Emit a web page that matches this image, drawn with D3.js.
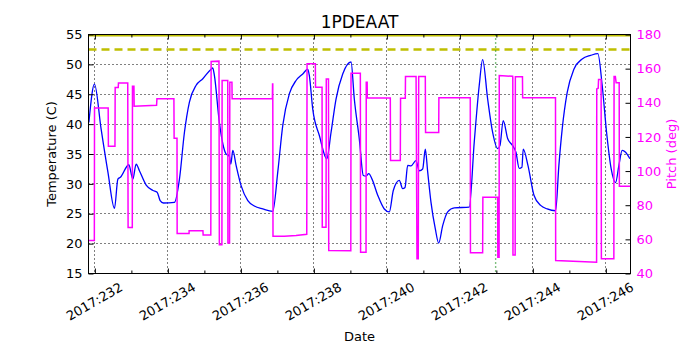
<!DOCTYPE html>
<html>
<head>
<meta charset="utf-8">
<script src="https://cdn.jsdelivr.net/npm/d3@7"></script>
<style>
  body { margin: 0; background: #fff; }
  svg { font-family: "DejaVu Sans", sans-serif; }
</style>
</head>
<body>
<svg id="chart" width="700" height="350"></svg>
<script>
// day of year 2017 (decimal) and 1PDEAAT temperature
const tempDays = [231.836, 231.989, 232.17, 232.356, 232.537, 232.63, 232.70, 232.93, 233.04, 233.13, 233.22,
  233.405, 233.59, 233.706, 233.788, 233.878, 234.18, 234.317, 234.453, 234.59, 234.774, 234.957, 235.185,
  235.23, 235.275, 235.41, 235.595, 235.686, 235.724, 235.779, 235.869, 236.006, 236.19, 236.37, 236.6,
  236.874, 237.011, 237.148, 237.329, 237.512, 237.696, 237.832, 237.876, 237.969, 238.15, 238.353, 238.47,
  238.607, 238.79, 239.018, 239.108, 239.245, 239.355, 239.429, 239.503, 239.593, 239.749, 239.93, 240.067,
  240.176, 240.34, 240.433, 240.497, 240.57, 240.661, 240.798, 240.888, 240.981, 241.053, 241.118, 241.209,
  241.326, 241.42, 241.529, 241.666, 241.847, 242.257, 242.394, 242.531, 242.624, 242.761, 242.898, 243.035,
  243.098, 243.188, 243.309, 243.446, 243.536, 243.626, 243.70, 243.736, 243.865, 244.03, 244.213, 244.393,
  244.623, 244.713, 244.804, 244.941, 245.124, 245.351, 245.582, 245.781, 245.899, 246.02, 246.146, 246.266,
  246.357, 246.447, 246.54, 246.658];
const tempValues = [40.3, 46.7, 39.2, 32.0, 25.9, 30.8, 31.1, 33.2, 30.8, 33.3, 32.2,
  29.8, 28.9, 28.6, 27.2, 26.8, 26.9, 30.8, 38.6, 43.7, 46.5, 47.6, 49.2,
  49.4, 48.1, 40.3, 35.0, 34.6, 33.3, 35.6, 33.1, 29.7, 27.2, 26.3, 25.8,
  25.4, 32.0, 39.8, 45.1, 47.3, 48.4, 49.2, 48.1, 42.5, 38.1, 34.2, 38.6,
  44.2, 48.4, 50.4, 44.2, 37.5, 31.4, 31.3, 31.7, 30.8, 28.1, 25.8, 25.3,
  28.9, 30.6, 29.2, 29.4, 33.1, 33.0, 33.9, 32.2, 32.5, 35.8, 32.0, 26.9,
  22.5, 20.1, 23.0, 25.3, 26.0, 26.1, 37.0, 46.5, 50.8, 44.2, 38.6, 35.9,
  36.4, 40.6, 37.6, 36.4, 35.3, 32.6, 32.8, 35.8, 33.1, 28.1, 26.4, 25.8,
  25.5, 33.1, 39.2, 45.3, 49.2, 50.9, 51.5, 51.8, 46.5, 38.6, 32.5, 30.2,
  33.1, 35.6, 35.3, 34.2];

// pitch (deg), step-like
const pitchDays = [231.825, 231.985, 231.99, 232.364, 232.37, 232.55, 232.556, 232.64, 232.646, 232.90, 232.91,
  233.025, 233.03, 233.07, 233.076, 233.69, 233.70, 234.165, 234.171, 234.25, 234.254, 234.58, 234.582,
  234.96, 234.966, 235.176, 235.185, 235.40, 235.41, 235.48, 235.486, 235.64, 235.645, 235.69, 235.697,
  235.755, 235.76, 236.863, 236.868, 236.874, 236.88, 237.192, 237.512, 237.805, 237.813, 238.04, 238.045,
  238.224, 238.23, 238.333, 238.34, 238.40, 238.407, 239.012, 239.018, 239.273, 239.28, 239.429, 239.435,
  239.46, 239.464, 240.094, 240.10, 240.368, 240.375, 240.505, 240.51, 240.80, 240.825, 240.86, 240.872,
  241.053, 241.06, 241.42, 241.425, 242.285, 242.29, 242.624, 242.63, 243.035, 243.04, 243.075, 243.079,
  243.446, 243.45, 243.455, 243.515, 243.52, 243.715, 243.72, 244.62, 244.625, 245.746, 245.75, 245.79,
  245.80, 245.87, 245.877, 246.219, 246.225, 246.26, 246.282, 246.365, 246.37, 246.671];
const pitchValues = [59.3, 59.3, 137.0, 137.0, 114.6, 114.6, 149.0, 149.0, 151.6, 151.6, 66.9,
  66.9, 149.7, 149.7, 138.0, 138.6, 142.3, 142.3, 119.2, 119.2, 63.4, 63.4, 65.0,
  65.0, 62.6, 62.6, 164.2, 164.4, 56.8, 56.8, 153.1, 153.1, 57.9, 57.9, 152.1,
  152.1, 142.4, 142.4, 151.0, 151.0, 61.8, 61.8, 62.3, 63.0, 162.8, 162.8, 149.1,
  149.1, 67.1, 67.1, 154.0, 154.0, 53.5, 53.3, 157.3, 157.3, 52.5, 52.5, 152.1,
  152.1, 142.8, 142.8, 106.2, 106.2, 142.7, 142.7, 155.4, 155.4, 48.6, 48.6, 155.4,
  155.4, 122.6, 122.6, 142.9, 142.9, 52.1, 52.1, 84.7, 84.7, 49.5, 49.5, 156.0,
  155.5, 155.0, 50.9, 50.9, 155.3, 155.3, 142.9, 142.9, 47.6, 46.6, 148.1, 148.5,
  153.6, 153.6, 48.6, 48.6, 155.4, 155.4, 151.7, 151.7, 91.1, 91.1];

const dateTicks = [232, 234, 236, 238, 240, 242, 244, 246];
const dateMinorTicks = [233, 235, 237, 239, 241, 243, 245];
const tempTicks = [15, 20, 25, 30, 35, 40, 45, 50, 55];
const pitchTicks = [40, 60, 80, 100, 120, 140, 160, 180];
const planLimit = 52.5;
const maxTemp = 55;
const markerDay = 242.98;

const margin = {top: 34.5, right: 69.5, bottom: 76.5, left: 88.5};
const width = 700 - margin.left - margin.right;
const height = 350 - margin.top - margin.bottom;

const svg = d3.select("#chart");
const g = svg.append("g")
    .attr("transform", "translate(" + margin.left + "," + margin.top + ")");

const x = d3.scaleLinear().domain([231.825, 246.675]).range([0, width]);
const yT = d3.scaleLinear().domain([15, 55]).range([height, 0]);
const yP = d3.scaleLinear().domain([40, 180]).range([height, 0]);

svg.append("defs").append("clipPath").attr("id", "clip")
    .append("rect").attr("width", width).attr("height", height);

// dotted grid on major ticks
g.append("g").selectAll("line").data(dateTicks).join("line")
    .attr("x1", d => Math.round(x(d))).attr("x2", d => Math.round(x(d)))
    .attr("y1", 0).attr("y2", height)
    .attr("stroke", "#000").attr("stroke-width", 1).attr("stroke-dasharray", "1,3");
g.append("g").selectAll("line").data(tempTicks.slice(1, -1)).join("line")
    .attr("x1", 0).attr("x2", width)
    .attr("y1", d => Math.round(yT(d))).attr("y2", d => Math.round(yT(d)))
    .attr("stroke", "#000").attr("stroke-width", 1).attr("stroke-dasharray", "1,3");

const plot = g.append("g").attr("clip-path", "url(#clip)");

// limit lines
plot.append("line")
    .attr("x1", 0).attr("x2", width).attr("y1", yT(maxTemp) + 1).attr("y2", yT(maxTemp) + 1)
    .attr("stroke", "#bfbf00").attr("stroke-width", 2);
plot.append("line")
    .attr("x1", 0).attr("x2", width).attr("y1", yT(planLimit)).attr("y2", yT(planLimit))
    .attr("stroke", "#bfbf00").attr("stroke-width", 2.5).attr("stroke-dasharray", "8,5");
plot.append("line")
    .attr("x1", x(markerDay)).attr("x2", x(markerDay)).attr("y1", 0).attr("y2", height)
    .attr("stroke", "#008000").attr("stroke-width", 1.4).attr("stroke-dasharray", "1,3");

const tempLine = d3.line()
    .x((d, i) => x(tempDays[i]))
    .y(d => yT(d))
    .curve(d3.curveMonotoneX);
plot.append("path")
    .datum(tempValues)
    .attr("fill", "none").attr("stroke", "#0000ff").attr("stroke-width", 1.3)
    .attr("d", tempLine);

const pitchLine = d3.line()
    .x((d, i) => x(pitchDays[i]))
    .y(d => yP(d));
plot.append("path")
    .datum(pitchValues)
    .attr("fill", "none").attr("stroke", "#ff00ff").attr("stroke-width", 1.5)
    .attr("d", pitchLine);

// axes, ticks point inward
const fmt = d => "2017:" + d;
const xAxis = g.append("g")
    .attr("transform", "translate(0," + height + ")")
    .call(d3.axisBottom(x).tickValues(dateTicks).tickSize(-5).tickFormat(fmt));
xAxis.selectAll("text")
    .attr("y", 0).attr("dy", "0.35em")
    .attr("text-anchor", "middle")
    .attr("transform", "translate(-1,28) rotate(-30)");
g.append("g")
    .attr("transform", "translate(0," + height + ")")
    .call(d3.axisBottom(x).tickValues(dateMinorTicks).tickSize(-3).tickFormat(""));
g.append("g")
    .call(d3.axisTop(x).tickValues(dateTicks).tickSize(-5).tickFormat(""));
g.append("g")
    .call(d3.axisTop(x).tickValues(dateMinorTicks).tickSize(-3).tickFormat(""));

g.append("g")
    .call(d3.axisLeft(yT).tickValues(tempTicks).tickSize(-5).tickPadding(6));

const rAxis = g.append("g")
    .attr("transform", "translate(" + width + ",0)")
    .call(d3.axisRight(yP).tickValues(pitchTicks).tickSize(-5).tickPadding(6));
rAxis.selectAll("text").attr("fill", "#ff00ff");

g.selectAll(".domain").remove();
g.selectAll(".tick text").attr("font-size", 13).attr("font-family", "DejaVu Sans, sans-serif");
g.selectAll(".tick line").attr("stroke", "#000");

g.append("rect")
    .attr("width", width).attr("height", height)
    .attr("fill", "none").attr("stroke", "#000").attr("stroke-width", 1);

// titles
svg.append("text")
    .attr("x", margin.left + width / 2).attr("y", 28)
    .attr("text-anchor", "middle").attr("font-size", 17)
    .text("1PDEAAT");
svg.append("text")
    .attr("x", margin.left + width / 2).attr("y", 341)
    .attr("text-anchor", "middle").attr("font-size", 13)
    .text("Date");
svg.append("text")
    .attr("transform", "translate(56," + (margin.top + height / 2) + ") rotate(-90)")
    .attr("text-anchor", "middle").attr("font-size", 13)
    .text("Temperature (C)");
svg.append("text")
    .attr("transform", "translate(676," + (margin.top + height / 2) + ") rotate(-90)")
    .attr("text-anchor", "middle").attr("font-size", 13).attr("fill", "#ff00ff")
    .text("Pitch (deg)");
</script>
</body>
</html>
